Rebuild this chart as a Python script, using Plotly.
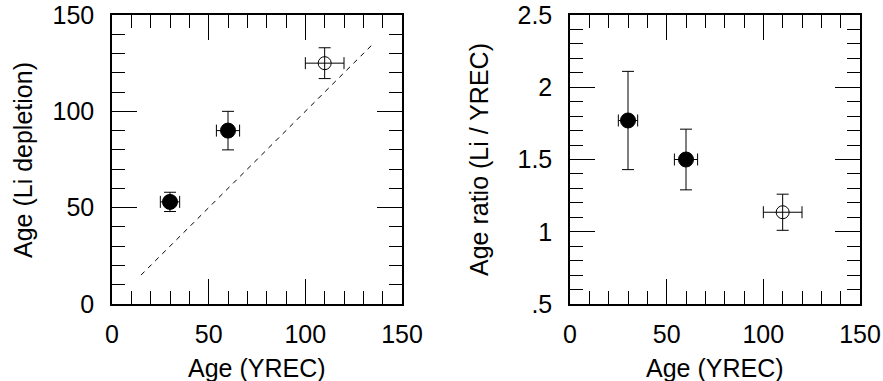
import plotly.graph_objects as go

# Data
age_yrec = [30, 60, 110]
age_yrec_err = [5, 6, 10]
age_li = [53, 90, 125]
age_li_err = [5, 10, 8]
ratio = [1.77, 1.50, 1.135]
ratio_err = [0.34, 0.21, 0.125]
filled = [True, True, False]
one_to_one = [15, 135]

y2_tickvals = [0.5, 1.0, 1.5, 2.0, 2.5]
y2_ticktext = [".5", "1", "1.5", "2", "2.5"]

FONT = "Liberation Sans, Arial, sans-serif"

fig = go.Figure()

# dashed 1:1 line
fig.add_trace(go.Scatter(x=one_to_one, y=one_to_one, mode="lines",
                         line=dict(color="black", width=1, dash="5px,5px"),
                         xaxis="x", yaxis="y", showlegend=False, hoverinfo="skip"))

for i in range(len(age_yrec)):
    sym = "circle" if filled[i] else "circle-open"
    mk = dict(symbol=sym, size=15 if filled[i] else 13, color="black",
              line=dict(color="black", width=1))
    ex = dict(type="data", array=[age_yrec_err[i]], color="black", thickness=1, width=6)
    fig.add_trace(go.Scatter(
        x=[age_yrec[i]], y=[age_li[i]], mode="markers", marker=mk,
        error_x=ex,
        error_y=dict(type="data", array=[age_li_err[i]], color="black", thickness=1, width=6),
        xaxis="x", yaxis="y", showlegend=False))
    fig.add_trace(go.Scatter(
        x=[age_yrec[i]], y=[ratio[i]], mode="markers", marker=mk,
        error_x=ex,
        error_y=dict(type="data", array=[ratio_err[i]], color="black", thickness=1, width=6),
        xaxis="x2", yaxis="y2", showlegend=False))

W, H = 883, 381
ydom = [(H - 304) / H, (H - 15) / H]

def xaxis(dom, anchor):
    return dict(domain=dom, anchor=anchor, range=[0, 150], tickvals=[0, 50, 100, 150],
                ticks="inside", ticklen=25, tickwidth=1, tickcolor="black",
                minor=dict(dtick=10, ticks="inside", ticklen=13, tickwidth=1, tickcolor="black"),
                showline=True, linecolor="black", linewidth=1.5, mirror="ticks",
                showgrid=False, zeroline=False, automargin=False,
                tickfont=dict(family=FONT, size=25, color="black"),
                ticklabelstandoff=7)

def yaxis(dom, anchor, rng, tv, tt, minor_dt, lab_so):
    return dict(domain=dom, anchor=anchor, range=rng, tickvals=tv, ticktext=tt,
                ticks="inside", ticklen=25, tickwidth=1, tickcolor="black",
                minor=dict(dtick=minor_dt, tick0=rng[0], ticks="inside", ticklen=13, tickwidth=1, tickcolor="black"),
                showline=True, linecolor="black", linewidth=1.5, mirror="ticks",
                showgrid=False, zeroline=False, automargin=False,
                tickfont=dict(family=FONT, size=25, color="black"),
                ticklabelstandoff=lab_so)

tfont = dict(family=FONT, size=25, color="black")
annotations = [
    dict(text="Age (YREC)", x=257 / W, y=(H - 368) / H),
    dict(text="Age (YREC)", x=715 / W, y=(H - 368) / H),
    dict(text="Age (Li depletion)", x=23 / W, y=(H - 160) / H, textangle=-90),
    dict(text="Age ratio (Li / YREC)", x=479 / W, y=(H - 160) / H, textangle=-90),
]
for a in annotations:
    a.update(xref="paper", yref="paper", xanchor="center", yanchor="middle",
             showarrow=False, font=tfont)

fig.update_layout(
    width=W, height=H,
    margin=dict(l=0, r=0, t=0, b=0),
    paper_bgcolor="white", plot_bgcolor="white",
    xaxis=xaxis([112 / W, 402 / W], "y"),
    yaxis=yaxis(ydom, "x", [0, 150], [0, 50, 100, 150], ["0", "50", "100", "150"], 10, 11),
    xaxis2=xaxis([570 / W, 860 / W], "y2"),
    yaxis2=yaxis(ydom, "x2", [0.5, 2.5], y2_tickvals, y2_ticktext, 0.1, 11),
    annotations=annotations,
    font=dict(family=FONT, color="black"),
)

fig.write_html("out.html")
